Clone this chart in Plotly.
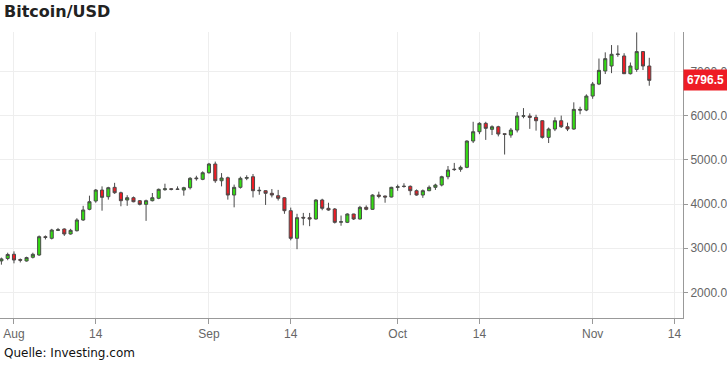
import plotly.graph_objects as go
import pandas as pd

start_date = "2017-07-30"
opens = [2715, 2770, 2865, 2745, 2713, 2796, 2848, 3262, 3226, 3405, 3436, 3323, 3397, 3640, 3881, 4069, 4317, 4166,
         4378, 4256, 4091, 4143, 4076, 3994, 4076, 4130, 4325, 4345, 4340, 4317, 4370, 4590, 4559,
         4708, 4905, 4527, 4595, 4204, 4378, 4582, 4618, 4300, 4302, 4243, 4189, 4143, 3850, 3226, 3700, 3692,
         3662, 4092, 3904, 3888, 3590, 3587, 3775, 3662, 3926, 3881, 4204, 4182, 4159,
         4378, 4405, 4401, 4302, 4204, 4302, 4378, 4430, 4618, 4790, 4785, 4830, 5425, 5635, 5825, 5689, 5748,
         5590, 5560, 5673, 5985, 5990, 5960, 5884, 5508, 5696, 5884, 5748, 5696, 6140, 6125,
         6442, 6713, 7008, 7121, 7380, 7348, 6947, 7045, 7447, 7121]
highs = [2790, 2900, 2930, 2770, 2810, 2900, 3290, 3290, 3440, 3460, 3450, 3440, 3680, 3960, 4190, 4340, 4400, 4390,
         4480, 4280, 4200, 4170, 4090, 4100, 4250, 4350, 4460, 4360, 4400, 4390, 4610, 4640, 4740,
         4930, 4960, 4700, 4620, 4440, 4620, 4650, 4680, 4390, 4310, 4340, 4320, 4150, 3920, 3780, 3800, 3800,
         4110, 4120, 4030, 3910, 3740, 3790, 3780, 3960, 3970, 4220, 4280, 4190, 4390,
         4440, 4470, 4420, 4330, 4330, 4420, 4460, 4640, 4860, 4930, 4870, 5440, 5860, 5850, 5860, 5780, 5770,
         5590, 5720, 6080, 6170, 6050, 6020, 5890, 5730, 5960, 6000, 5840, 6300, 6200, 6480,
         6760, 7290, 7430, 7595, 7590, 7410, 7200, 7880, 7460, 7307]
lows = [2630, 2730, 2660, 2680, 2700, 2770, 2830, 3200, 3200, 3390, 3280, 3310, 3380, 3620, 3860, 4030, 3850, 4100,
        4230, 3950, 3960, 4040, 3970, 3620, 4060, 4110, 4300, 4310, 4320, 4190, 4330, 4530, 4540,
        4690, 4480, 4400, 4100, 3926, 4350, 4540, 4150, 4210, 3980, 4150, 4080, 3780, 3180, 2980, 3520, 3500,
        3650, 3860, 3850, 3560, 3510, 3570, 3640, 3650, 3860, 3870, 4130, 4030, 4150,
        4300, 4370, 4200, 4190, 4140, 4290, 4320, 4400, 4560, 4750, 4730, 4810, 5380, 5580, 5450, 5560, 5530,
        5120, 5500, 5620, 5940, 5700, 5660, 5480, 5380, 5650, 5720, 5650, 5680, 6030, 6100,
        6380, 6690, 6940, 6960, 7330, 6940, 6930, 6990, 7030, 6675]
closes = [2760, 2860, 2735, 2730, 2790, 2864, 3262, 3245, 3413, 3420, 3323, 3406, 3640, 3866, 4053, 4317, 4152, 4370,
          4256, 4076, 4143, 4053, 3994, 4076, 4143, 4333, 4345, 4333, 4333, 4370, 4582, 4575, 4708,
          4905, 4527, 4589, 4204, 4378, 4582, 4600, 4302, 4310, 4243, 4204, 4130, 3850, 3226, 3692, 3684, 3662,
          4092, 3904, 3865, 3587, 3600, 3775, 3662, 3926, 3881, 4204, 4174, 4159, 4378,
          4390, 4398, 4302, 4204, 4302, 4378, 4430, 4618, 4769, 4780, 4830, 5425, 5635, 5825, 5712, 5748, 5583,
          5576, 5673, 5990, 5995, 5960, 5884, 5508, 5696, 5884, 5748, 5696, 6141, 6125, 6442,
          6713, 7023, 7288, 7386, 7390, 6947, 7121, 7447, 7121, 6796.5]

dates = pd.date_range(start_date, periods=len(closes), freq="D")

tick_dates = ["2017-08-01", "2017-08-14", "2017-09-01", "2017-09-14",
              "2017-10-01", "2017-10-14", "2017-11-01", "2017-11-14"]
tick_labels = ["Aug", "14", "Sep", "14", "Oct", "14", "Nov", "14"]
y_ticks = [2000, 3000, 4000, 5000, 6000, 7000]
last_price = closes[-1]

fig = go.Figure(go.Candlestick(
    x=dates, open=opens, high=highs, low=lows, close=closes,
    increasing=dict(fillcolor="#33dd11", line=dict(color="#4a4a4a", width=1)),
    decreasing=dict(fillcolor="#ee1c25", line=dict(color="#4a4a4a", width=1)),
    whiskerwidth=0,
    showlegend=False,
))

axis_font = dict(family="Liberation Sans Narrow, Liberation Sans, Arial", size=12, color="#666666")

fig.update_layout(
    width=727, height=366,
    margin=dict(l=0, r=44, t=32, b=48),
    paper_bgcolor="white", plot_bgcolor="white",
    xaxis=dict(
        type="date",
        range=["2017-07-29 18:40", "2017-11-15 08:40"],
        rangeslider=dict(visible=False),
        tickvals=tick_dates, ticktext=tick_labels,
        showgrid=True, gridcolor="#eeeeee", gridwidth=1,
        showline=True, linecolor="#999999", linewidth=1,
        ticks="outside", ticklen=5, tickcolor="#999999",
        tickfont=axis_font, zeroline=False,
    ),
    yaxis=dict(
        side="right",
        range=[1424, 7890],
        tickvals=y_ticks, tickformat=".1f",
        showgrid=True, gridcolor="#eeeeee", gridwidth=1,
        showline=True, linecolor="#999999", linewidth=1,
        ticks="outside", ticklen=4, tickcolor="#999999",
        tickfont=axis_font, zeroline=False, automargin=False,
    ),
    annotations=[
        dict(text="<b>Bitcoin/USD</b>", xref="paper", yref="paper", x=0.003, y=1.07,
             xanchor="left", yanchor="middle", showarrow=False,
             font=dict(family="DejaVu Sans", size=16, color="#222222")),
        dict(text="Quelle: Investing.com", xref="paper", yref="paper", x=0.003, y=-0.122,
             xanchor="left", yanchor="middle", showarrow=False,
             font=dict(family="DejaVu Sans", size=12, color="#111111")),
        dict(text="<b>%.1f</b>" % last_price, xref="paper", yref="y", x=1.0, y=last_price,
             xanchor="left", yanchor="middle", showarrow=False,
             bgcolor="#ee1c25", font=dict(family="Liberation Sans", size=12, color="white"),
             borderpad=3),
    ],
)

fig.write_html("out.html",
               config={"displayModeBar": False},
               post_script="document.body.style.margin='0px';document.body.style.overflow='hidden';")
